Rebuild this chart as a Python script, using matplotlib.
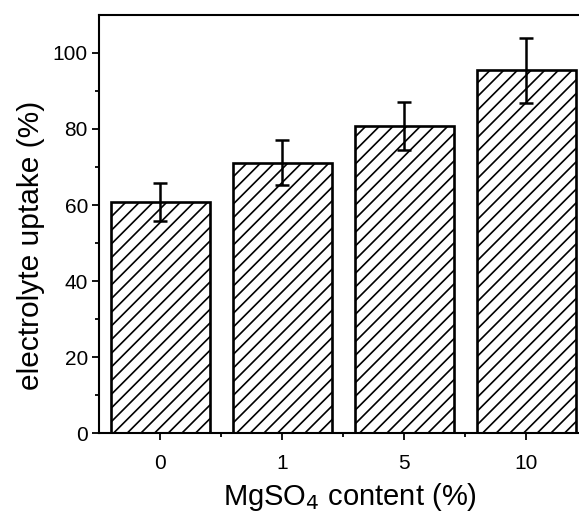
import matplotlib.pyplot as plt
import numpy as np

# render at a lower dpi so the hatch spacing matches; s keeps sizes as if 100 dpi
DPI = 82
s = 100 / DPI

plt.rcParams['font.family'] = ['Liberation Sans', 'DejaVu Sans']
plt.rcParams['hatch.linewidth'] = 1.2 * s

categories = ['0', '1', '5', '10']
uptake = [60.8, 71.1, 80.8, 95.4]
errors = [4.9, 5.9, 6.4, 8.5]

fig = plt.figure(figsize=(579 / DPI, 515 / DPI), dpi=DPI)
ax = fig.add_axes([0.171, 0.159, 0.829, 0.812])

x = np.arange(len(categories))
ax.bar(x, uptake, width=0.81, color='white', edgecolor='black', linewidth=1.9 * s,
       hatch='//', yerr=errors, capsize=5 * s,
       error_kw=dict(elinewidth=1.8 * s, capthick=1.8 * s, ecolor='black'))

ax.set_xlim(-0.5, 3.43)
ax.set_ylim(0, 110)
ax.set_xticks(x)
ax.set_xticklabels(categories)
ax.set_xticks(x[:-1] + 0.5, minor=True)
ax.set_yticks(np.arange(0, 101, 20))
ax.set_yticks(np.arange(10, 101, 20), minor=True)

ax.spines['right'].set_visible(False)
for sp in ['left', 'bottom', 'top']:
    ax.spines[sp].set_linewidth(1.5 * s)
ax.tick_params(which='major', direction='out', length=5 * s, width=1.3 * s, labelsize=15 * s)
ax.tick_params(which='minor', direction='out', length=3 * s, width=1.3 * s)
ax.tick_params(axis='x', pad=10 * s)
ax.tick_params(axis='y', pad=3 * s)

ax.set_ylabel('electrolyte uptake (%)', fontsize=21.5 * s)
ax.set_xlabel('MgSO$_4$ content (%)', fontsize=21 * s)
ax.yaxis.set_label_coords(-0.112, 0.45)
ax.xaxis.set_label_coords(0.523, -0.115)

fig.savefig('out.png', dpi=DPI)
